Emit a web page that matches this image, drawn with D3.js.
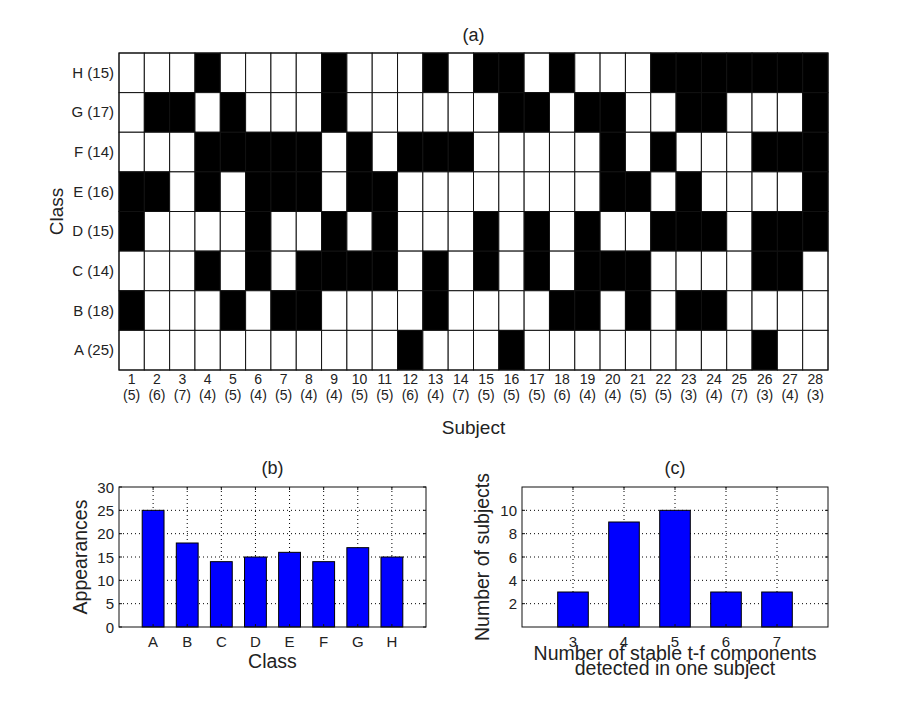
<!DOCTYPE html>
<html>
<head>
<meta charset="utf-8">
<script src="https://cdn.jsdelivr.net/npm/d3@7"></script>
<style>
  html, body { margin: 0; padding: 0; background: #fff; }
  svg text { font-family: "Liberation Sans", Arial, Helvetica, sans-serif; fill: #222; }
</style>
</head>
<body>
<svg id="chart" width="915" height="704"></svg>
<script>
// ---------- DATA ----------
// Panel (a): classes (top to bottom H..A) and subjects
const classesTopDown = ["H", "G", "F", "E", "D", "C", "B", "A"];
const classRowLabels = ["H (15)", "G (17)", "F (14)", "E (16)", "D (15)", "C (14)", "B (18)", "A (25)"];
const subjects = [1,2,3,4,5,6,7,8,9,10,11,12,13,14,15,16,17,18,19,20,21,22,23,24,25,26,27,28];
const subjectCounts = [5,6,7,4,5,4,5,4,4,5,5,6,4,7,5,5,5,6,4,4,5,5,3,4,7,3,4,3];
// Subjects in which each class was NOT found (drawn black)
const missingH = [4,9,13,15,16,18,22,23,24,25,26,27,28];
const missingG = [2,3,5,9,16,17,19,20,23,24,28];
const missingF = [4,5,6,7,8,10,12,13,14,20,22,26,27,28];
const missingE = [1,2,4,6,7,8,10,11,20,21,23,28];
const missingD = [1,6,9,11,15,17,19,22,23,24,26,27,28];
const missingC = [4,6,8,9,10,11,13,15,17,19,20,21,26,27];
const missingB = [1,5,7,8,13,18,19,21,23,24];
const missingA = [12,16,26];

// Panel (b)
const classes = ["A", "B", "C", "D", "E", "F", "G", "H"];
const appearances = [25, 18, 14, 15, 16, 14, 17, 15];
const appearanceTicks = [0, 5, 10, 15, 20, 25, 30];

// Panel (c)
const componentCounts = [3, 4, 5, 6, 7];
const subjectsPerCount = [3, 9, 10, 3, 3];
const subjectTicks = [2, 4, 6, 8, 10];

// ---------- DRAW ----------
const svg = d3.select("#chart");
svg.append("rect").attr("width", 915).attr("height", 704).attr("fill", "#fff");

const missingByClass = { H: missingH, G: missingG, F: missingF, E: missingE, D: missingD, C: missingC, B: missingB, A: missingA };

// ---- Panel (a) ----
const ax = { left: 119, right: 828, top: 53, bottom: 370 };
const xA = d3.scaleBand().domain(subjects).range([ax.left, ax.right]).padding(0);
const yA = d3.scaleBand().domain(classesTopDown).range([ax.top, ax.bottom]).padding(0);

const cells = [];
classesTopDown.forEach(c => {
  subjects.forEach(s => cells.push({ c, s, black: missingByClass[c].includes(s) }));
});
const gA = svg.append("g");
gA.selectAll("rect.cell").data(cells).join("rect")
  .attr("class", "cell")
  .attr("x", d => xA(d.s)).attr("y", d => yA(d.c))
  .attr("width", xA.bandwidth()).attr("height", yA.bandwidth())
  .attr("fill", d => d.black ? "#000" : "#fff")
  .attr("stroke", "#111").attr("stroke-width", 1);
gA.append("rect").attr("x", ax.left).attr("y", ax.top)
  .attr("width", ax.right - ax.left).attr("height", ax.bottom - ax.top)
  .attr("fill", "none").attr("stroke", "#111").attr("stroke-width", 1);

// row labels
gA.selectAll("text.rowlab").data(classesTopDown).join("text")
  .attr("class", "rowlab")
  .attr("x", ax.left - 5).attr("y", d => yA(d) + yA.bandwidth() / 2 + 5)
  .attr("text-anchor", "end").attr("font-size", 15)
  .text((d, i) => classRowLabels[i]);

// column labels
gA.selectAll("text.collab").data(subjects).join("text")
  .attr("class", "collab")
  .attr("x", d => xA(d) + xA.bandwidth() / 2).attr("y", 383.5)
  .attr("text-anchor", "middle").attr("font-size", 14)
  .text(d => d);
gA.selectAll("text.colcnt").data(subjects).join("text")
  .attr("class", "colcnt")
  .attr("x", d => xA(d) + xA.bandwidth() / 2).attr("y", 399.5)
  .attr("text-anchor", "middle").attr("font-size", 14)
  .text((d, i) => "(" + subjectCounts[i] + ")");

gA.append("text").attr("x", (ax.left + ax.right) / 2).attr("y", 41)
  .attr("text-anchor", "middle").attr("font-size", 18).text("(a)");
gA.append("text").attr("x", (ax.left + ax.right) / 2).attr("y", 434)
  .attr("text-anchor", "middle").attr("font-size", 19).text("Subject");
gA.append("text").attr("transform", `translate(63, ${(ax.top + ax.bottom) / 2}) rotate(-90)`)
  .attr("text-anchor", "middle").attr("font-size", 19).text("Class");

// ---- helper for bar panels ----
function barPanel(opts) {
  const g = svg.append("g");
  const { left, right, top, bottom } = opts.box;
  const x = d3.scaleLinear().domain(opts.xDomain).range([left, right]);
  const y = d3.scaleLinear().domain(opts.yDomain).range([bottom, top]);

  // dotted grid
  g.selectAll("line.gx").data(opts.xTickVals).join("line")
    .attr("x1", d => x(d)).attr("x2", d => x(d)).attr("y1", top).attr("y2", bottom)
    .attr("stroke", "#000").attr("stroke-width", 1).attr("stroke-dasharray", "1,3");
  g.selectAll("line.gy").data(opts.yTicks.filter(t => t > opts.yDomain[0] && t < opts.yDomain[1])).join("line")
    .attr("x1", left).attr("x2", right).attr("y1", d => y(d)).attr("y2", d => y(d))
    .attr("stroke", "#000").attr("stroke-width", 1).attr("stroke-dasharray", "1,3");

  // bars
  const bw = x(opts.barWidth) - x(0);
  g.selectAll("rect.bar").data(opts.values).join("rect")
    .attr("x", (d, i) => x(opts.xTickVals[i]) - bw / 2)
    .attr("y", d => y(d))
    .attr("width", bw)
    .attr("height", d => y(opts.yDomain[0]) - y(d))
    .attr("fill", "#0000ff").attr("stroke", "#000").attr("stroke-width", 1);

  // box
  g.append("rect").attr("x", left).attr("y", top).attr("width", right - left).attr("height", bottom - top)
    .attr("fill", "none").attr("stroke", "#111").attr("stroke-width", 1);

  // tick marks (inward, on all sides)
  const tl = 3;
  opts.xTickVals.forEach(v => {
    g.append("line").attr("x1", x(v)).attr("x2", x(v)).attr("y1", bottom).attr("y2", bottom - tl).attr("stroke", "#111");
    g.append("line").attr("x1", x(v)).attr("x2", x(v)).attr("y1", top).attr("y2", top + tl).attr("stroke", "#111");
  });
  opts.yTicks.forEach(v => {
    g.append("line").attr("x1", left).attr("x2", left + tl).attr("y1", y(v)).attr("y2", y(v)).attr("stroke", "#111");
    g.append("line").attr("x1", right).attr("x2", right - tl).attr("y1", y(v)).attr("y2", y(v)).attr("stroke", "#111");
  });

  // tick labels
  g.selectAll("text.xt").data(opts.xTickVals).join("text")
    .attr("x", d => x(d)).attr("y", bottom + 20)
    .attr("text-anchor", "middle").attr("font-size", 15)
    .text((d, i) => opts.xTickLabels[i]);
  g.selectAll("text.yt").data(opts.yTicks).join("text")
    .attr("x", left - 5).attr("y", d => y(d) + 5.5)
    .attr("text-anchor", "end").attr("font-size", 15)
    .text(d => d);

  // title
  g.append("text").attr("x", (left + right) / 2).attr("y", 474)
    .attr("text-anchor", "middle").attr("font-size", 18).text(opts.title);
  // y label
  g.append("text").attr("transform", `translate(${opts.yLabelX}, ${(top + bottom) / 2}) rotate(-90)`)
    .attr("text-anchor", "middle").attr("font-size", opts.labelSize).text(opts.yLabel);
  // x label lines
  opts.xLabel.forEach((line, i) => {
    g.append("text").attr("x", (left + right) / 2).attr("y", opts.xLabelY[i])
      .attr("text-anchor", "middle").attr("font-size", opts.labelSize).text(line);
  });
}

barPanel({
  box: { left: 119, right: 426, top: 487, bottom: 627 },
  xDomain: [0, classes.length + 1],
  yDomain: [0, 30],
  xTickVals: classes.map((c, i) => i + 1),
  xTickLabels: classes,
  yTicks: appearanceTicks,
  values: appearances,
  barWidth: 0.64,
  title: "(b)",
  yLabel: "Appearances",
  yLabelX: 87,
  xLabel: ["Class"],
  xLabelY: [668],
  labelSize: 19.5
});

barPanel({
  box: { left: 522, right: 828, top: 487, bottom: 627 },
  xDomain: [2, 8],
  yDomain: [0, 12],
  xTickVals: componentCounts,
  xTickLabels: componentCounts,
  yTicks: subjectTicks,
  values: subjectsPerCount,
  barWidth: 0.6,
  title: "(c)",
  yLabel: "Number of subjects",
  yLabelX: 489,
  xLabel: ["Number of stable t-f components", "detected in one subject"],
  xLabelY: [660, 675],
  labelSize: 19.5
});
</script>
</body>
</html>
